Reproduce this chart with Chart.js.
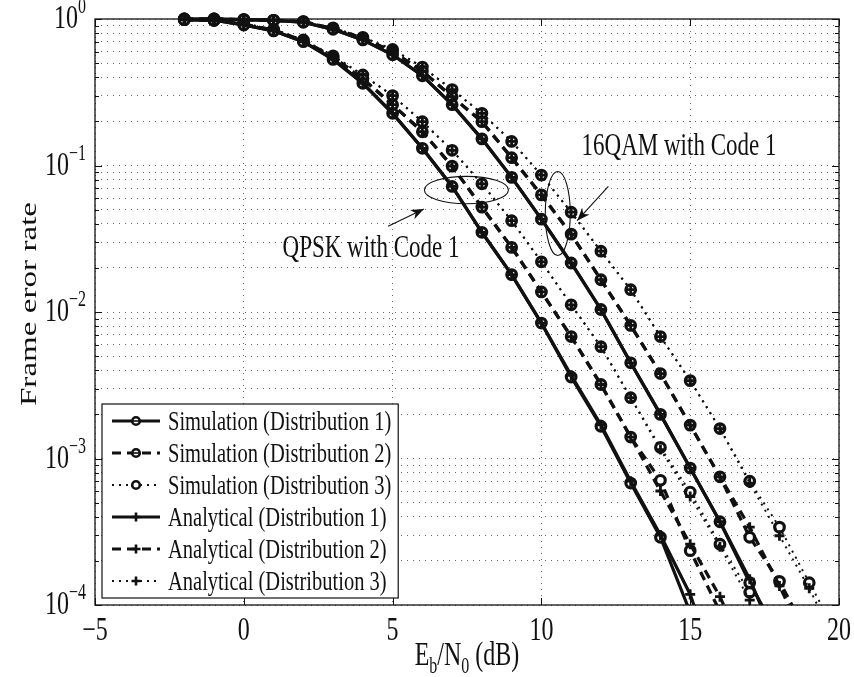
<!DOCTYPE html>
<html><head><meta charset="utf-8">
<script src="https://cdn.jsdelivr.net/npm/chart.js@4.4.0/dist/chart.umd.min.js"></script>
<style>html,body{margin:0;padding:0;background:#fff}#wrap{width:854px;height:677px;position:relative}</style>
</head><body><div id="wrap"><canvas id="c" width="854" height="677"></canvas></div>
<script>
// ---- data (Eb/N0 in dB, frame error rate) ----
const ebn0 = [-2,-1,0,1,2,3,4,5,6,7,8,9,10,11,12,13,14,15,16,17,18,19,20];

const qpskSimD1 = [0.99,0.98,0.91,0.83,0.70,0.53,0.364,0.227,0.131,0.072,0.035,0.018,0.0084,0.0036,0.00166,0.00068,0.00029,0.000089,null,null,null,null,null];
const qpskSimD2 = [0.99,0.98,0.92,0.84,0.71,0.55,0.39,0.26,0.17,0.099,0.052,0.0276,0.0137,0.0068,0.0032,0.0014,0.00071,0.000235,0.00009,null,null,null,null];
const qpskSimD3 = [0.99,0.98,0.93,0.85,0.72,0.56,0.415,0.30,0.199,0.127,0.075,0.042,0.022,0.0112,0.0058,0.0026,0.00119,0.00059,0.00026,0.000122,null,null,null];

const qamSimD1 = [1.0,1.0,0.99,0.98,0.95,0.85,0.72,0.57,0.41,0.26,0.152,0.083,0.043,0.0216,0.0104,0.0045,0.0020,0.00086,0.00037,0.000142,0.00006,null,null];
const qamSimD2 = [1.0,1.0,0.99,0.98,0.96,0.86,0.74,0.60,0.44,0.295,0.199,0.113,0.063,0.034,0.0166,0.0081,0.0038,0.00169,0.00075,0.00029,0.000145,0.00006,null];
const qamSimD3 = [1.0,1.0,0.99,0.98,0.96,0.87,0.75,0.62,0.47,0.33,0.227,0.146,0.086,0.048,0.026,0.0142,0.0068,0.0034,0.0016,0.0007,0.00034,0.000142,0.00006];

const qpskAnaD1 = [0.99,0.98,0.91,0.83,0.70,0.53,0.364,0.227,0.131,0.072,0.035,0.018,0.0084,0.0037,0.0017,0.00070,0.00030,0.000118,0.00003,null,null,null,null];
const qpskAnaD2 = [0.99,0.98,0.92,0.84,0.71,0.55,0.39,0.26,0.17,0.099,0.052,0.0276,0.0137,0.0068,0.0032,0.0014,0.00060,0.00026,0.000114,0.00004,null,null,null];
const qpskAnaD3 = [0.99,0.98,0.93,0.85,0.72,0.56,0.415,0.30,0.199,0.127,0.075,0.042,0.022,0.0112,0.0058,0.0026,0.00115,0.00055,0.00025,0.000108,0.00004,null,null];

const qamAnaD1 = [1.0,1.0,0.99,0.98,0.95,0.85,0.72,0.57,0.41,0.26,0.152,0.083,0.043,0.0216,0.0104,0.0045,0.0020,0.00086,0.00037,0.00015,0.00005,null,null];
const qamAnaD2 = [1.0,1.0,0.99,0.98,0.96,0.86,0.74,0.60,0.44,0.295,0.199,0.113,0.063,0.034,0.0166,0.0081,0.0038,0.00169,0.00075,0.00034,0.000135,0.00005,null];
const qamAnaD3 = [1.0,1.0,0.99,0.98,0.96,0.87,0.75,0.62,0.47,0.33,0.227,0.146,0.086,0.048,0.026,0.0142,0.0068,0.0034,0.0016,0.00068,0.000297,0.00013,0.00005];

const legendLabels = ['Simulation (Distribution 1)','Simulation (Distribution 2)','Simulation (Distribution 3)',
                      'Analytical (Distribution 1)','Analytical (Distribution 2)','Analytical (Distribution 3)'];
const xTickValues = [-5,0,5,10,15,20];
const xTickLabels = ['\u22125','0','5','10','15','20'];
const yMajorTicks = [1e-4,1e-3,1e-2,1e-1,1];
const yTickExponents = ['\u22124','\u22123','\u22122','\u22121','0'];
const yTitle = 'Frame eror rate';
const xTitleParts = [['E',0],['b',1],['/N',0],['0',1],[' (dB)',0]];
const annoQAM = '16QAM with Code 1';
const annoQPSK = 'QPSK with Code 1';

// ---- styles ----
const FONT = '"Liberation Serif","Times New Roman",serif';
const SY = 1.38;
const INK = '#111';
const dashes = {1: [], 2: [9, 6], 3: [2, 5]};
const widths = {1: 3.2, 2: 3.2, 3: 2};

function pts(arr){ const out=[]; ebn0.forEach((x,i)=>{ if(arr[i]!=null) out.push({x:x,y:arr[i]}); }); return out; }
const clip = {left:false, top:8, right:false, bottom:0};
function simDs(arr, d){
  return {label: legendLabels[d-1], data: pts(arr), borderColor: INK, borderWidth: widths[d], borderDash: dashes[d],
    pointStyle:'circle', pointRadius:4.8, pointBorderWidth:3.2, pointBackgroundColor:'#fff', pointBorderColor:INK,
    tension:0, order:2, clip:clip};
}
function anaDs(arr, d){
  return {label: legendLabels[d+2], data: pts(arr), borderColor: INK, borderWidth: widths[d], borderDash: dashes[d],
    pointStyle:'cross', pointRadius:5, pointBorderWidth:2.8, pointBackgroundColor:INK, pointBorderColor:INK,
    tension:0, order:1, clip:clip};
}
const datasets = [
  simDs(qpskSimD1,1), simDs(qpskSimD2,2), simDs(qpskSimD3,3),
  simDs(qamSimD1,1), simDs(qamSimD2,2), simDs(qamSimD3,3),
  anaDs(qpskAnaD1,1), anaDs(qpskAnaD2,2), anaDs(qpskAnaD3,3),
  anaDs(qamAnaD1,1), anaDs(qamAnaD2,2), anaDs(qamAnaD3,3)
];

function sText(ctx, s, x, y, size, align){
  ctx.save(); ctx.translate(x,y); ctx.scale(1,SY);
  ctx.font = size+'px '+FONT; ctx.textAlign = align||'left'; ctx.textBaseline='alphabetic';
  ctx.fillStyle = INK; ctx.fillText(s,0,0); ctx.restore();
}
function tw(ctx, s, size){ ctx.save(); ctx.font = size+'px '+FONT; const w = ctx.measureText(s).width; ctx.restore(); return w; }

function arrow(ctx, x1,y1,x2,y2){
  ctx.save(); ctx.strokeStyle=INK; ctx.fillStyle=INK; ctx.lineWidth=1.1; ctx.setLineDash([]);
  ctx.beginPath(); ctx.moveTo(x1,y1); ctx.lineTo(x2,y2); ctx.stroke();
  const a = Math.atan2(y2-y1,x2-x1), L=13, W=5;
  ctx.beginPath(); ctx.moveTo(x2,y2);
  ctx.lineTo(x2 - L*Math.cos(a) + W*Math.sin(a), y2 - L*Math.sin(a) - W*Math.cos(a));
  ctx.lineTo(x2 - 0.7*L*Math.cos(a), y2 - 0.7*L*Math.sin(a));
  ctx.lineTo(x2 - L*Math.cos(a) - W*Math.sin(a), y2 - L*Math.sin(a) + W*Math.cos(a));
  ctx.closePath(); ctx.fill(); ctx.restore();
}

const decor = {
  id:'decor',
  afterDraw(chart){
    const ctx = chart.ctx, ca = chart.chartArea, xs = chart.scales.x, ys = chart.scales.y;
    ctx.save();
    // frame
    ctx.strokeStyle = INK; ctx.lineWidth = 1.3; ctx.setLineDash([]);
    ctx.strokeRect(ca.left, ca.top, ca.right-ca.left, ca.bottom-ca.top);
    // inward ticks
    ctx.lineWidth = 1;
    ys.ticks.forEach(t=>{
      const y = Math.round(ys.getPixelForValue(t.value))+0.5, L = t.major?7:4;
      ctx.beginPath(); ctx.moveTo(ca.left,y); ctx.lineTo(ca.left+L,y); ctx.moveTo(ca.right,y); ctx.lineTo(ca.right-L,y); ctx.stroke();
    });
    xs.ticks.forEach(t=>{
      const x = Math.round(xs.getPixelForValue(t.value))+0.5;
      ctx.beginPath(); ctx.moveTo(x,ca.bottom); ctx.lineTo(x,ca.bottom-7); ctx.moveTo(x,ca.top); ctx.lineTo(x,ca.top+7); ctx.stroke();
    });
    // y tick labels 10^k
    const BS = 24, ES = 16;
    yMajorTicks.forEach((v,i)=>{
      const y = ys.getPixelForValue(v);
      const we = tw(ctx, yTickExponents[i], ES), wb = tw(ctx,'10',BS);
      const right = ca.left - 9;
      sText(ctx,'10', right - we - wb, y + 9, BS, 'left');
      sText(ctx, yTickExponents[i], right - we, y - 6, ES, 'left');
    });
    // x tick labels
    xTickValues.forEach((v,i)=>{
      sText(ctx, xTickLabels[i], xs.getPixelForValue(v), ca.bottom + 35, BS, 'center');
    });
    // x title with subscripts
    let total = 0; xTitleParts.forEach(p=>{ total += tw(ctx,p[0], p[1]?16:BS); });
    let xx = (ca.left+ca.right)/2 - total/2;
    xTitleParts.forEach(p=>{
      const sz = p[1]?16:BS;
      sText(ctx, p[0], xx, ca.bottom + 60 + (p[1]?8:0), sz, 'left');
      xx += tw(ctx,p[0],sz);
    });
    // y title
    ctx.save(); ctx.translate(36, (ca.top+ca.bottom)/2 - 8); ctx.rotate(-Math.PI/2); ctx.scale(SY,1);
    ctx.font = BS+'px '+FONT; ctx.textAlign='center'; ctx.textBaseline='alphabetic'; ctx.fillStyle=INK;
    ctx.fillText(yTitle,0,0); ctx.restore();

    // annotations
    ctx.strokeStyle = INK; ctx.lineWidth = 1.1;
    const e1x = xs.getPixelForValue(10.55), e1y = ys.getPixelForValue(0.0470);
    ctx.beginPath(); ctx.ellipse(e1x, e1y, 12.5, 42, 0, 0, Math.PI*2); ctx.stroke();
    const e2x = xs.getPixelForValue(7.48), e2y = ys.getPixelForValue(0.0680);
    ctx.beginPath(); ctx.ellipse(e2x, e2y, 42, 13.7, 0, 0, Math.PI*2); ctx.stroke();
    arrow(ctx, xs.getPixelForValue(12.25), ys.getPixelForValue(0.072), xs.getPixelForValue(11.2), ys.getPixelForValue(0.042));
    arrow(ctx, xs.getPixelForValue(4.85), ys.getPixelForValue(0.0385), xs.getPixelForValue(6.05), ys.getPixelForValue(0.0505));
    sText(ctx, annoQAM, xs.getPixelForValue(11.35), ys.getPixelForValue(0.118), 23, 'left');
    sText(ctx, annoQPSK, xs.getPixelForValue(7.25), ys.getPixelForValue(0.0237), 23, 'right');

    // legend
    const LS = 20.5, lx = ca.left + 7, rowH = 32, n = legendLabels.length;
    let maxW = 0; legendLabels.forEach(s=>{ maxW = Math.max(maxW, tw(ctx,s,LS)); });
    const boxW = 66 + maxW + 7, boxH = rowH*n + 2;
    const by = ca.bottom - 7 - boxH;
    ctx.fillStyle = '#fff'; ctx.fillRect(lx, by, boxW, boxH);
    ctx.strokeStyle = INK; ctx.lineWidth = 1.2; ctx.setLineDash([]); ctx.strokeRect(lx, by, boxW, boxH);
    legendLabels.forEach((s,i)=>{
      const cy = by + 17 + i*rowH, d = (i%3)+1;
      ctx.save(); ctx.strokeStyle = INK; ctx.lineWidth = widths[d]; ctx.setLineDash(dashes[d]);
      ctx.beginPath(); ctx.moveTo(lx+10, cy); ctx.lineTo(lx+58, cy); ctx.stroke(); ctx.restore();
      ctx.save(); ctx.strokeStyle = INK; ctx.lineWidth = 2.6; ctx.setLineDash([]);
      if (i<3){ ctx.fillStyle='#fff'; ctx.beginPath(); ctx.arc(lx+34, cy, 3.8, 0, Math.PI*2); ctx.fill(); ctx.stroke();
        if(i<2){ ctx.lineWidth=1.6; ctx.beginPath(); ctx.moveTo(lx+31,cy); ctx.lineTo(lx+37,cy); ctx.stroke(); } }
      else { ctx.beginPath(); ctx.moveTo(lx+29.5,cy); ctx.lineTo(lx+38.5,cy); ctx.moveTo(lx+34,cy-4.5); ctx.lineTo(lx+34,cy+4.5); ctx.stroke(); }
      ctx.restore();
      sText(ctx, s, lx+66, cy + 8.5, LS, 'left');
    });
    ctx.restore();
  }
};

new Chart(document.getElementById('c'), {
  type:'line',
  data:{datasets:datasets},
  options:{
    responsive:false, animation:false, devicePixelRatio:1,
    layout:{padding:{left:95, right:15, top:19, bottom:72}},
    plugins:{legend:{display:false}, tooltip:{enabled:false}},
    scales:{
      x:{type:'linear', min:-5, max:20,
         afterBuildTicks:(s)=>{ s.ticks = xTickValues.map(v=>({value:v})); },
         afterFit:(s)=>{ s.height = 0; },
         ticks:{display:false}, grid:{color:'#666', lineWidth:1, drawTicks:false}, border:{display:false, dash:[1,5]}},
      y:{type:'logarithmic', min:1e-4, max:1,
         afterBuildTicks:(s)=>{ const t=[]; yMajorTicks.forEach(m=>{ if(m>=1){t.push({value:m,major:true});return;} for(let k=1;k<=9;k++) t.push({value:m*k, major:k===1}); }); s.ticks=t; },
         afterFit:(s)=>{ s.width = 0; },
         ticks:{display:false}, grid:{color:'#666', lineWidth:1, drawTicks:false}, border:{display:false, dash:[1,5]}}
    }
  },
  plugins:[decor]
});
</script>
</body></html>
